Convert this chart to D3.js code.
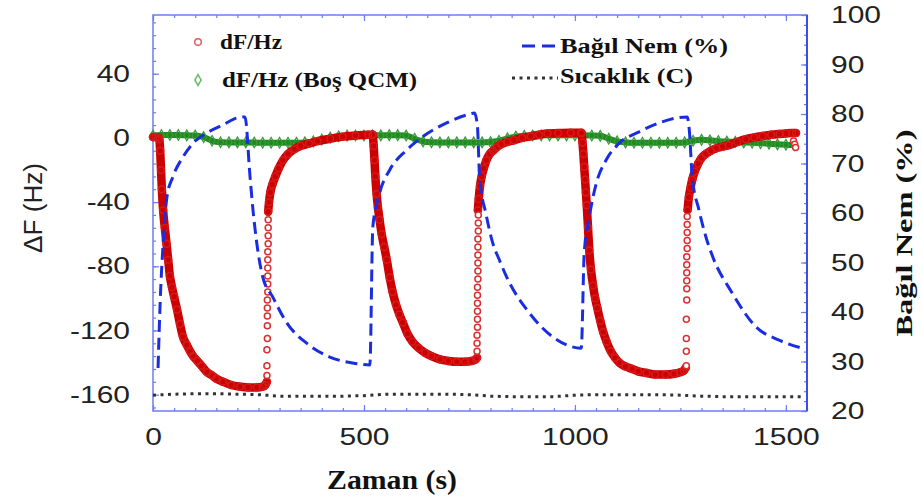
<!DOCTYPE html>
<html>
<head>
<meta charset="utf-8">
<script src="https://cdn.jsdelivr.net/npm/d3@7"></script>
<style>
  body { margin: 0; background: #fff; }
  svg { display: block; }
</style>
</head>
<body>
<svg id="chart" width="922" height="499"></svg>
<script>
// dF/Hz (sensor) - dense band, segments split by null
const redTime = [0, 6, 12, 15, 17, 19, 21, 24, 28, 32, 36, 40, 45, 50, 57, 64, 71, 80, 88, 95, 105, 115, 128, 140, 150, 166, 185, 206, 225, 246, 260, 266, 270,
  null,
  273, 275, 278, 283, 290, 298, 308, 320, 335, 350, 370, 390, 420, 450, 480, 510, 520,
  null,
  521, 523, 525, 527, 530, 533, 537, 542, 548, 554, 561, 568, 576, 584, 592, 603, 615, 630, 645, 660, 680, 700, 720, 740, 755, 765, 768,
  null,
  770, 772, 775, 779, 784, 790, 798, 806, 814, 825, 840, 855, 875, 895, 915, 935, 960, 990, 1015,
  null,
  1016, 1018, 1020, 1022, 1024, 1026, 1028, 1031, 1034, 1038, 1043, 1048, 1053, 1060, 1067, 1075, 1085, 1095, 1105, 1120, 1136, 1150, 1170, 1190, 1215, 1235, 1250, 1258, 1263,
  null,
  1267, 1270, 1274, 1278, 1284, 1292, 1300, 1310, 1322, 1335, 1350, 1365, 1385, 1405, 1425, 1445, 1465, 1485, 1500, 1515, 1524];
const redShift = [0.5, 0.5, 0.3, -1, -8, -20, -32, -45, -56, -66, -76, -86, -93, -99, -107, -116, -124, -129, -133, -136, -139, -142, -146, -148, -150, -152, -154, -155, -155.5, -155.5, -155, -154, -152,
  null,
  -46, -40, -34, -29, -24, -19, -14, -10, -7, -5, -3.5, -2, -0.5, 0.8, 1.5, 2, 2,
  null,
  2, -5, -14, -24, -35, -43, -51, -60, -68, -76, -87, -96, -104, -110, -115, -122, -127, -131, -134, -136, -138, -139, -139.5, -139.5, -139, -138, -137,
  null,
  -45, -38, -30, -24, -19, -14, -10, -8, -6, -4, -2.5, -1.5, 0, 1, 2, 2.8, 3, 3.2, 3.2,
  null,
  3, -3, -10, -18, -26, -34, -42, -56, -70, -82, -92, -100, -106, -114, -121, -127, -133, -137, -140, -142.5, -144, -145.5, -146.5, -147.5, -147.5, -147, -146, -145, -143,
  null,
  -45, -37, -31, -26, -21, -16, -12.5, -10, -8, -6.5, -5.5, -4.5, -2.5, -0.8, 0.3, 1.2, 2, 2.5, 2.8, 3, 3];

// isolated points on the fast recovery jumps
const jumpTime = [270, 270, 270, 271, 271, 271, 271, 271, 272, 272, 272, 272, 272, 272, 273, 273, 273, 273,
  768, 768, 768, 769, 769, 769, 769, 769, 769, 770, 770, 770, 770, 770, 770, 771, 771, 771,
  1264, 1264, 1264, 1264, 1265, 1265, 1265, 1265, 1265, 1265, 1266, 1266, 1266, 1266, 1266,
  1518, 1521, 1523];
const jumpShift = [-148, -142, -132, -125, -117, -111, -106, -101, -96, -91, -86, -81, -76, -71, -66, -61, -56, -51,
  -133, -128, -123, -118, -113, -108, -103, -98, -93, -88, -83, -78, -73, -68, -63, -58, -53, -48,
  -142, -133, -125, -113, -101, -94, -89, -84, -79, -74, -69, -64, -59, -54, -49,
  -2, -4, -6];

// dF/Hz (Boş QCM), every 20 s
const blankTime = d3.range(0, 1521, 20);
const blankShift = [1.5, 1.8, 1.8, 1.8, 1.6, 1.5, 0.5, -1.8, -2.7, -2.8, -2.8, -2.8, -2.9, -3, -3, -3, -3, -3, -2.8, -2.2,
  -1.0, 0.2, 1.0, 1.4, 1.5, 1.5, 1.6, 1.6, 1.7, 1.7, 1.5, -0.5, -2.2, -2.7, -2.8, -2.8, -2.8, -2.8, -2.8, -2.8,
  -2.6, -1.8, -0.3, 0.8, 1.3, 1.5, 1.6, 1.6, 1.6, 1.6, 1.6, 1.6, 1.5, 1.3, -0.5, -2.2, -2.8, -3, -3, -3,
  -3, -3, -3, -2.8, -1.8, -1.2, -1.5, -2, -2.3, -2.5, -2.8, -3, -3.3, -3.6, -4, -4.3, -4.5];

// Bağıl Nem (%)
const rhTime = [12, 17, 24, 33, 47, 71, 95, 128, 166, 199, 218, 230, 237, 246, 260, 284, 317, 364, 419, 473, 514,
  521, 537, 561, 601, 639, 696, 743, 762, 769, 774, 790, 805, 821, 838, 892, 947, 1015,
  1022, 1034, 1051, 1074, 1105, 1152, 1200, 1240, 1266, 1271, 1278, 1294, 1311, 1325, 1373, 1429, 1484, 1538];
const rhValue = [28.7, 42, 53.9, 63.2, 67.3, 71.3, 74.1, 76.2, 77.8, 79.2, 79.4, 67.3, 60.6, 53.9, 47.1, 43.0, 37.8, 33.7, 30.9, 29.7, 29.3,
  57.2, 64.0, 68.7, 72.7, 75.4, 78.2, 79.8, 80.2, 77.4, 67.3, 59.5, 54.0, 50.5, 47.1, 39.8, 35.0, 32.7,
  51.9, 59.2, 66.1, 70.7, 74.1, 76.4, 78.2, 79.2, 79.4, 76.8, 67.3, 60.6, 55.0, 51.5, 43.8, 37.0, 34.3, 32.7];

// Sıcaklık (C), every 50 s
const tempTime = [0, 50, 100, 150, 200, 250, 300, 350, 400, 450, 500, 550, 600, 650, 700, 750, 800, 850, 900, 950,
  1000, 1050, 1100, 1150, 1200, 1250, 1300, 1350, 1400, 1450, 1500, 1540];
const tempValue = [23.2, 23.4, 23.5, 23.5, 23.4, 23.3, 23.0, 23.0, 23.0, 23.0, 23.1, 23.4, 23.4, 23.4, 23.4, 23.3, 23.0, 22.9, 22.9, 22.9,
  23.2, 23.3, 23.3, 23.3, 23.3, 23.2, 23.0, 22.9, 22.9, 22.9, 22.9, 22.9];

const xTicks = [0, 500, 1000, 1500];
const leftTicks = [40, 0, -40, -80, -120, -160];
const rightTicks = [20, 30, 40, 50, 60, 70, 80, 90, 100];

const svg = d3.select("#chart"),
    margin = {top: 15, left: 153},
    width = 654,
    height = 396,
    g = svg.append("g").attr("transform", "translate(" + margin.left + "," + margin.top + ")");

const x = d3.scaleLinear().domain([0, 1550]).range([0, width]);
const yL = d3.scaleLinear().domain([-170.2, 76.6]).range([height, 0]);
const yR = d3.scaleLinear().domain([20, 100]).range([height, 0]);

const frameColor = "#6d7df0";
const tickFont = "Liberation Sans, Arial, sans-serif";
const serif = "Liberation Serif, Times New Roman, serif";
const stretch = 1.25;   // tick labels in the picture are a bit wide
const plain = d => String(d);  // hyphen, not unicode minus

// axes: major ticks with labels, minor ticks without, all pointing inward
function styleAxis(sel, labels) {
    sel.select(".domain").remove();
    sel.selectAll("line").attr("stroke", frameColor).attr("stroke-width", 1.2);
    sel.selectAll("text")
        .style("font-family", tickFont)
        .style("font-size", "24px")
        .attr("fill", labels ? "#222" : "none")
        .attr("transform", "scale(" + stretch + ",1)");
}

g.append("g").attr("transform", "translate(0," + height + ")")
    .call(d3.axisBottom(x).tickValues(d3.range(0, 1551, 50)).tickSize(-3).tickFormat(""))
    .call(s => styleAxis(s, false));
g.append("g").attr("transform", "translate(0," + height + ")")
    .call(d3.axisBottom(x).tickValues(xTicks).tickSize(-6).tickPadding(17).tickFormat(plain))
    .call(s => styleAxis(s, true));
g.append("g")
    .call(d3.axisTop(x).tickValues(d3.range(0, 1551, 50)).tickSize(-3).tickFormat(""))
    .call(s => styleAxis(s, false));
g.append("g")
    .call(d3.axisTop(x).tickValues(xTicks).tickSize(-6).tickFormat(""))
    .call(s => styleAxis(s, false));

g.append("g")
    .call(d3.axisLeft(yL).tickValues(d3.range(-168, 77, 8)).tickSize(-3).tickFormat(""))
    .call(s => styleAxis(s, false));
g.append("g")
    .call(d3.axisLeft(yL).tickValues(leftTicks).tickSize(-6).tickPadding(23 / stretch).tickFormat(plain))
    .call(s => styleAxis(s, true));

g.append("g").attr("transform", "translate(" + width + ",0)")
    .call(d3.axisRight(yR).tickValues(d3.range(20, 101, 2)).tickSize(-3).tickFormat(""))
    .call(s => styleAxis(s, false));
g.append("g").attr("transform", "translate(" + width + ",0)")
    .call(d3.axisRight(yR).tickValues(rightTicks).tickSize(-6).tickPadding(24 / stretch).tickFormat(plain))
    .call(s => styleAxis(s, true));

// frame
g.append("rect")
    .attr("width", width).attr("height", height)
    .attr("fill", "none").attr("stroke", frameColor).attr("stroke-width", 1.5);
g.append("line")
    .attr("x1", width).attr("x2", width).attr("y1", 0).attr("y2", height)
    .attr("stroke", "#3c4ce6").attr("stroke-width", 2);

// blank QCM (green)
const blank = blankTime.map((t, i) => ({t: t, v: blankShift[i]}));
g.append("path")
    .datum(blank)
    .attr("fill", "none").attr("stroke", "#1f8a1f").attr("stroke-width", 6)
    .attr("d", d3.line().x(d => x(d.t)).y(d => yL(d.v)).curve(d3.curveMonotoneX));
g.selectAll(".blank")
    .data(blank)
    .enter().append("path")
    .attr("class", "blank")
    .attr("transform", d => "translate(" + x(d.t) + "," + yL(d.v) + ")")
    .attr("d", d3.symbol(d3.symbolDiamond, 32))
    .attr("fill", "none").attr("stroke", "#3a9a3a").attr("stroke-width", 1.3);

// sensor (red)
const red = redTime.map((t, i) => ({t: t, v: redShift[i]}));
g.append("path")
    .datum(red)
    .attr("fill", "none").attr("stroke", "#cc0000").attr("stroke-width", 8.5)
    .attr("stroke-linecap", "round").attr("stroke-linejoin", "round")
    .attr("d", d3.line().defined(d => d.v !== null).x(d => x(d.t)).y(d => yL(d.v)).curve(d3.curveMonotoneX));
g.selectAll(".redpt")
    .data(red.filter(d => d.v !== null))
    .enter().append("circle")
    .attr("class", "redpt")
    .attr("cx", d => x(d.t)).attr("cy", d => yL(d.v)).attr("r", 3.4)
    .attr("fill", "none").attr("stroke", "#d41a1a").attr("stroke-width", 1.6);
g.selectAll(".jump")
    .data(jumpTime.map((t, i) => ({t: t, v: jumpShift[i]})))
    .enter().append("circle")
    .attr("class", "jump")
    .attr("cx", d => x(d.t)).attr("cy", d => yL(d.v)).attr("r", 3)
    .attr("fill", "#fff").attr("stroke", "#d83030").attr("stroke-width", 1.5);

// relative humidity (blue dashed)
g.append("path")
    .datum(rhTime.map((t, i) => ({t: t, v: rhValue[i]})))
    .attr("fill", "none").attr("stroke", "#1a2ee0").attr("stroke-width", 3)
    .attr("stroke-dasharray", "12,6")
    .attr("d", d3.line().x(d => x(d.t)).y(d => yR(d.v)).curve(d3.curveMonotoneX));

// temperature (black dotted)
g.append("path")
    .datum(tempTime.map((t, i) => ({t: t, v: tempValue[i]})))
    .attr("fill", "none").attr("stroke", "#333").attr("stroke-width", 3)
    .attr("stroke-dasharray", "3,4.5")
    .attr("d", d3.line().x(d => x(d.t)).y(d => yR(d.v)));

// legend
svg.append("circle").attr("cx", 198).attr("cy", 42).attr("r", 3.3)
    .attr("fill", "none").attr("stroke", "#e06060").attr("stroke-width", 1.5);
svg.append("path").attr("transform", "translate(198,80)")
    .attr("d", d3.symbol(d3.symbolDiamond, 34))
    .attr("fill", "none").attr("stroke", "#6cb86c").attr("stroke-width", 1.5);
svg.append("line").attr("x1", 522).attr("x2", 556).attr("y1", 46).attr("y2", 46)
    .attr("stroke", "#1a2ee0").attr("stroke-width", 3).attr("stroke-dasharray", "13,7");
svg.append("line").attr("x1", 512).attr("x2", 558).attr("y1", 78).attr("y2", 78)
    .attr("stroke", "#333").attr("stroke-width", 3).attr("stroke-dasharray", "3,4.5");

function legendText(txt, lx, ly, len) {
    svg.append("text")
        .attr("x", lx).attr("y", ly)
        .attr("textLength", len).attr("lengthAdjust", "spacingAndGlyphs")
        .style("font-family", serif).style("font-weight", "bold").style("font-size", "22px")
        .attr("fill", "#111")
        .text(txt);
}
legendText("dF/Hz", 220, 49, 62);
legendText("dF/Hz (Boş QCM)", 222, 87, 195);
legendText("Bağıl Nem (%)", 560, 53, 168);
legendText("Sıcaklık (C)", 560, 83, 133);

// axis titles
svg.append("text")
    .attr("transform", "translate(42,208) rotate(-90)")
    .attr("text-anchor", "middle")
    .attr("textLength", 90).attr("lengthAdjust", "spacingAndGlyphs")
    .style("font-family", tickFont).style("font-size", "25px")
    .attr("fill", "#222")
    .text("ΔF (Hz)");

svg.append("text")
    .attr("transform", "translate(912,233) rotate(-90)")
    .attr("text-anchor", "middle")
    .attr("textLength", 207).attr("lengthAdjust", "spacingAndGlyphs")
    .style("font-family", serif).style("font-weight", "bold").style("font-size", "23px")
    .attr("fill", "#111")
    .text("Bağıl Nem (%)");

svg.append("text")
    .attr("x", 392).attr("y", 489)
    .attr("text-anchor", "middle")
    .attr("textLength", 130).attr("lengthAdjust", "spacingAndGlyphs")
    .style("font-family", serif).style("font-weight", "bold").style("font-size", "27px")
    .attr("fill", "#111")
    .text("Zaman (s)");
</script>
</body>
</html>
